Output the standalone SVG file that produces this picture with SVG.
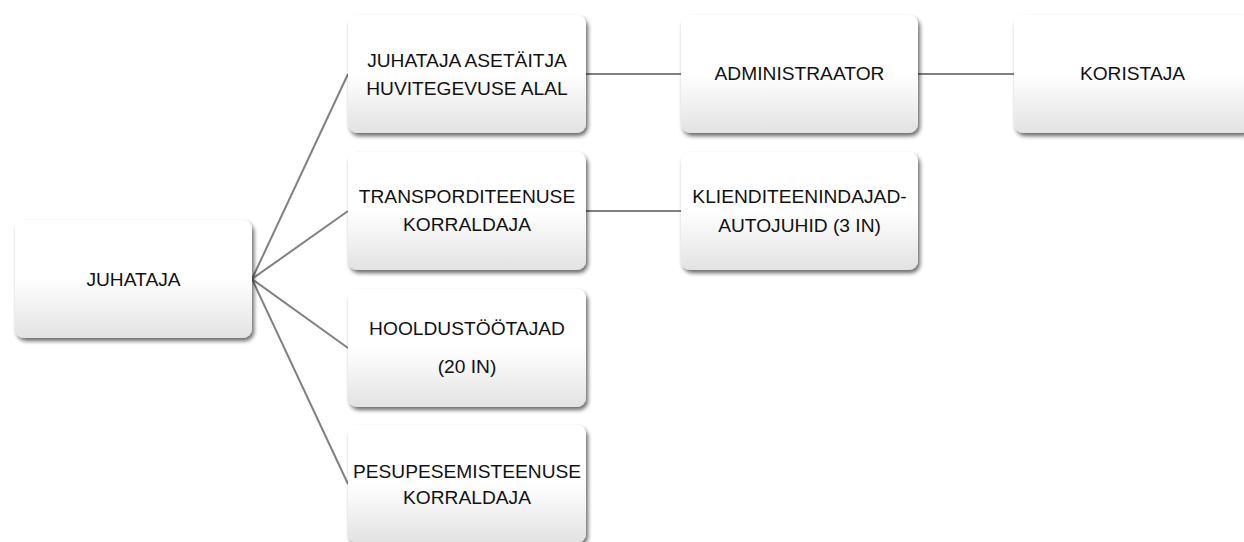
<svg xmlns="http://www.w3.org/2000/svg" width="1244" height="542" viewBox="0 0 1244 542">
<style>
.box{fill:url(#g);filter:url(#sh);}
.t{font-family:"Liberation Sans",Arial,sans-serif;font-size:19.2px;fill:#111;text-anchor:middle;}
.c{stroke:#808080;stroke-width:2;fill:none;}
</style>
<defs>
<linearGradient id="g" x1="0" y1="0" x2="0" y2="1">
<stop offset="0" stop-color="#ffffff"/>
<stop offset="0.5" stop-color="#ffffff"/>
<stop offset="1" stop-color="#e2e2e2"/>
</linearGradient>
<filter id="sh" x="-10%" y="-10%" width="130%" height="140%">
<feGaussianBlur in="SourceAlpha" stdDeviation="2.2"/>
<feOffset dx="2" dy="3" result="b"/>
<feComponentTransfer><feFuncA type="linear" slope="0.6"/></feComponentTransfer>
<feMerge><feMergeNode/><feMergeNode in="SourceGraphic"/></feMerge>
</filter>
</defs>
<rect width="1244" height="542" fill="#fff"/>
<g id="connectors">
<line class="c" x1="252" y1="279" x2="348" y2="74"/>
<line class="c" x1="252" y1="279" x2="348" y2="211"/>
<line class="c" x1="252" y1="279" x2="348" y2="348"/>
<line class="c" x1="252" y1="279" x2="348" y2="484"/>
<line class="c" x1="586" y1="74" x2="681" y2="74"/>
<line class="c" x1="918" y1="74" x2="1014" y2="74"/>
<line class="c" x1="586" y1="211" x2="681" y2="211"/>
</g>
<g id="juhataja">
<rect class="box" x="15" y="220" width="237" height="118" rx="9"/>
<text class="t" x="133.5" y="286">JUHATAJA</text>
</g>
<g id="asetaitja">
<rect class="box" x="348" y="15" width="238" height="118" rx="9"/>
<text class="t" x="467" y="67">JUHATAJA ASETÄITJA</text>
<text class="t" x="467" y="95">HUVITEGEVUSE ALAL</text>
</g>
<g id="transport">
<rect class="box" x="348" y="152" width="238" height="118" rx="9"/>
<text class="t" x="467" y="203">TRANSPORDITEENUSE</text>
<text class="t" x="467" y="231">KORRALDAJA</text>
</g>
<g id="hooldus">
<rect class="box" x="348" y="289" width="238" height="118" rx="9"/>
<text class="t" x="467" y="335">HOOLDUSTÖÖTAJAD</text>
<text class="t" x="467" y="373">(20 IN)</text>
</g>
<g id="pesu">
<rect class="box" x="348" y="425" width="238" height="118" rx="9"/>
<text class="t" x="467" y="478">PESUPESEMISTEENUSE</text>
<text class="t" x="467" y="504">KORRALDAJA</text>
</g>
<g id="admin">
<rect class="box" x="681" y="15" width="237" height="118" rx="9"/>
<text class="t" x="799.5" y="80">ADMINISTRAATOR</text>
</g>
<g id="klient">
<rect class="box" x="681" y="152" width="237" height="118" rx="9"/>
<text class="t" x="799.5" y="203">KLIENDITEENINDAJAD-</text>
<text class="t" x="799.5" y="232">AUTOJUHID (3 IN)</text>
</g>
<g id="koristaja">
<rect class="box" x="1014" y="15" width="237" height="118" rx="9"/>
<text class="t" x="1132.5" y="80">KORISTAJA</text>
</g>
</svg>
